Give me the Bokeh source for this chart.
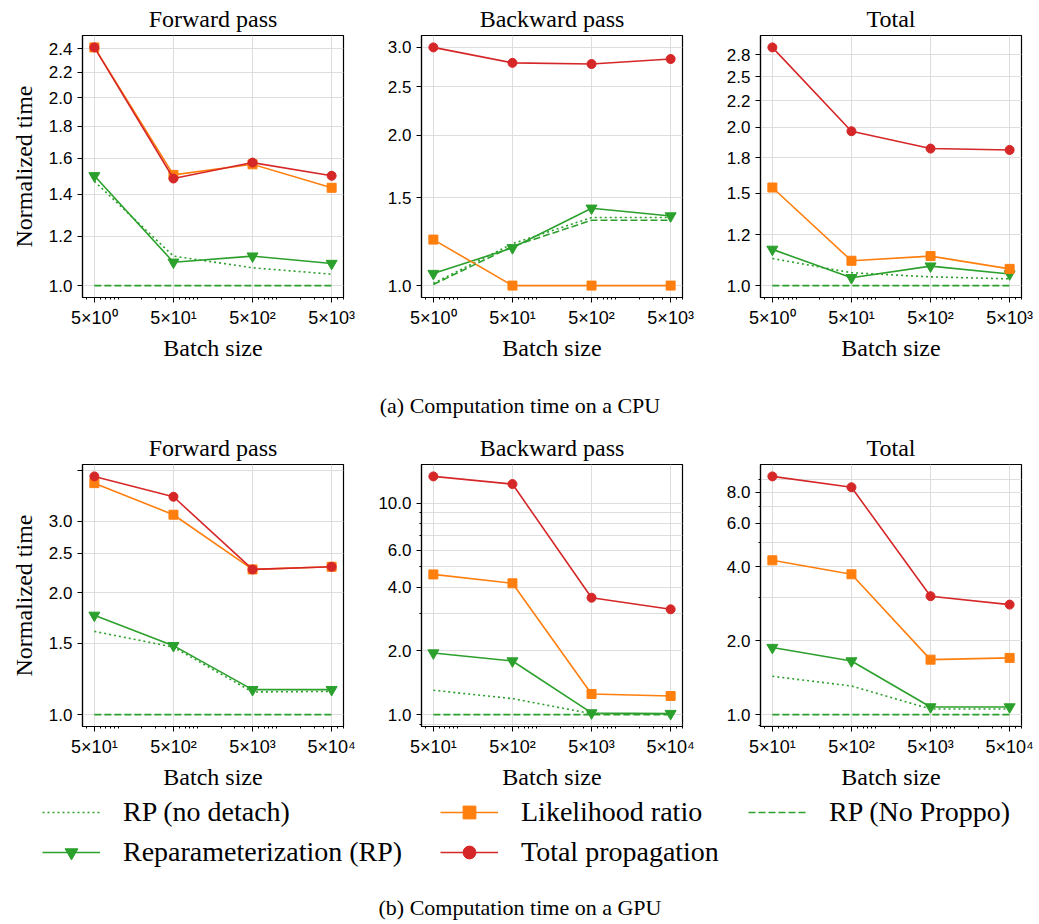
import math
from bokeh.plotting import figure
from bokeh.models import Range1d, FixedTicker, Legend, LegendItem, Label, Title
from bokeh.layouts import column, row
from bokeh.embed import file_html
from bokeh.resources import INLINE

# ---------------- data ----------------
x_cpu = [5, 50, 500, 5000]
x_gpu = [50, 500, 5000, 50000]
x_cpu_ticklabels = ["5×10⁰", "5×10¹", "5×10²", "5×10³"]
x_gpu_ticklabels = ["5×10¹", "5×10²", "5×10³", "5×10⁴"]

panel_titles = ["Forward pass", "Backward pass", "Total"]
series_names = ["RP (no detach)", "Reparameterization (RP)", "Likelihood ratio",
                "Total propagation", "RP (No Proppo)"]
caption_cpu = "(a) Computation time on a CPU"
caption_gpu = "(b) Computation time on a GPU"
y_label = "Normalized time"
x_label = "Batch size"

# CPU
cpu_fwd_rp_nodetach = [1.47, 1.115, 1.068, 1.043]
cpu_fwd_rp = [1.50, 1.09, 1.115, 1.085]
cpu_fwd_lr = [2.41, 1.505, 1.565, 1.435]
cpu_fwd_tp = [2.41, 1.485, 1.575, 1.50]
cpu_fwd_rp_noproppo = [1.0, 1.0, 1.0, 1.0]

cpu_bwd_rp_nodetach = [1.01, 1.213, 1.368, 1.368]
cpu_bwd_rp = [1.057, 1.19, 1.428, 1.378]
cpu_bwd_lr = [1.236, 1.0, 1.0, 1.0]
cpu_bwd_tp = [2.996, 2.79, 2.775, 2.84]
cpu_bwd_rp_noproppo = [1.005, 1.198, 1.351, 1.351]

cpu_tot_rp_nodetach = [1.126, 1.058, 1.039, 1.030]
cpu_tot_rp = [1.172, 1.035, 1.089, 1.052]
cpu_tot_lr = [1.537, 1.115, 1.138, 1.076]
cpu_tot_tp = [2.84, 1.967, 1.823, 1.812]
cpu_tot_rp_noproppo = [1.0, 1.0, 1.0, 1.0]

# GPU
gpu_fwd_rp_nodetach = [1.604, 1.467, 1.137, 1.141]
gpu_fwd_rp = [1.757, 1.479, 1.152, 1.152]
gpu_fwd_lr = [3.722, 3.111, 2.28, 2.315]
gpu_fwd_tp = [3.867, 3.445, 2.28, 2.315]
gpu_fwd_rp_noproppo = [1.0, 1.0, 1.0, 1.0]

gpu_bwd_rp_nodetach = [1.303, 1.19, 1.01, 1.01]
gpu_bwd_rp = [1.955, 1.792, 1.018, 1.011]
gpu_bwd_lr = [4.60, 4.175, 1.252, 1.224]
gpu_bwd_tp = [13.37, 12.30, 3.57, 3.146]
gpu_bwd_rp_noproppo = [1.0, 1.0, 1.0, 1.0]

gpu_tot_rp_nodetach = [1.431, 1.307, 1.054, 1.054]
gpu_tot_rp = [1.873, 1.652, 1.074, 1.074]
gpu_tot_lr = [4.24, 3.72, 1.673, 1.70]
gpu_tot_tp = [9.30, 8.40, 3.03, 2.80]
gpu_tot_rp_noproppo = [1.0, 1.0, 1.0, 1.0]

# y ticks
cpu_fwd_yticks = [1.0, 1.2, 1.4, 1.6, 1.8, 2.0, 2.2, 2.4]
cpu_fwd_ylabels = ["1.0", "1.2", "1.4", "1.6", "1.8", "2.0", "2.2", "2.4"]
cpu_bwd_yticks = [1.0, 1.5, 2.0, 2.5, 3.0]
cpu_bwd_ylabels = ["1.0", "1.5", "2.0", "2.5", "3.0"]
cpu_tot_yticks = [1.0, 1.25, 1.5, 1.75, 2.0, 2.25, 2.5, 2.75]
cpu_tot_ylabels = ["1.0", "1.2", "1.5", "1.8", "2.0", "2.2", "2.5", "2.8"]
gpu_fwd_yticks = [1.0, 1.5, 2.0, 2.5, 3.0, 4.0]
gpu_fwd_ylabels = ["1.0", "1.5", "2.0", "2.5", "3.0", ""]
gpu_bwd_yticks = [1.0, 2.0, 4.0, 6.0, 10.0]
gpu_bwd_ylabels = ["1.0", "2.0", "4.0", "6.0", "10.0"]
gpu_bwd_yminor = [0.9, 3.0, 5.0, 7.0, 8.0, 9.0]
gpu_tot_yticks = [1.0, 2.0, 4.0, 6.0, 8.0]
gpu_tot_ylabels = ["1.0", "2.0", "4.0", "6.0", "8.0"]
gpu_tot_yminor = [0.9, 3.0, 5.0, 7.0, 9.0]

# ---------------- style ----------------
GREEN, ORANGE, RED = "#2ca02c", "#ff7f0e", "#d62728"
SERIF = "Liberation Serif"
SANS = "Liberation Sans"
GRID = "#dedede"
styles = [
    dict(color=GREEN, dash="2 3", marker=None, size=0),
    dict(color=GREEN, dash="solid", marker="inverted_triangle", size=11),
    dict(color=ORANGE, dash="solid", marker="square", size=9),
    dict(color=RED, dash="solid", marker="circle", size=9),
    dict(color=GREEN, dash="7 3", marker=None, size=0),
]


def log_pad_range(vals):
    lo, hi = math.log10(min(vals)), math.log10(max(vals))
    pad = 0.05 * (hi - lo)
    return Range1d(10 ** (lo - pad), 10 ** (hi + pad))


def x_minor_ticks(xs):
    k0 = math.floor(math.log10(min(xs))) - 1
    k1 = math.ceil(math.log10(max(xs))) + 1
    out = []
    for k in range(k0, k1 + 1):
        for m in range(1, 10):
            v = m * 10 ** k
            if v not in xs:
                out.append(v)
    return out


def serif_title(text, standoff):
    return Title(text=text, align="center", text_font=SERIF, text_font_size="24px",
                 text_font_style="normal", text_color="black", standoff=standoff)


def make_panel(title, xs, xlabels, series, yticks, ylabels, yminor,
               left, right, top, bottom, show_ylabel):
    all_y = [v for s in series for v in s]
    p = figure(frame_width=261, frame_height=262,
               x_axis_type="log", y_axis_type="log",
               x_range=log_pad_range(xs), y_range=log_pad_range(all_y),
               output_backend="svg", toolbar_location=None, title=title,
               min_border_left=left, min_border_right=right,
               min_border_top=top, min_border_bottom=bottom)
    p.title.text_font = SERIF
    p.title.text_font_size = "24px"
    p.title.text_font_style = "normal"
    p.title.align = "center"
    p.title.standoff = 7
    p.title.text_color = "black"

    p.outline_line_color = "black"
    p.outline_line_width = 1.2
    p.background_fill_color = "white"
    p.border_fill_color = "white"

    p.xaxis.ticker = FixedTicker(ticks=list(xs), minor_ticks=x_minor_ticks(xs))
    p.xaxis.major_label_overrides = {float(x): lab for x, lab in zip(xs, xlabels)}
    p.yaxis.ticker = FixedTicker(ticks=list(yticks), minor_ticks=list(yminor))
    p.yaxis.major_label_overrides = {float(t): lab for t, lab in zip(yticks, ylabels)}

    for ax in (p.xaxis[0], p.yaxis[0]):
        ax.axis_line_color = "black"
        ax.axis_line_width = 1.2
        ax.major_tick_line_color = "black"
        ax.minor_tick_line_color = "black"
        ax.major_tick_in = 0
        ax.major_tick_out = 5
        ax.minor_tick_in = 0
        ax.minor_tick_out = 2
        ax.major_label_text_font = SANS
        ax.major_label_text_color = "black"
    p.xaxis.major_label_text_font_size = "18px"
    p.yaxis.major_label_text_font_size = "17px"
    p.xaxis.major_label_standoff = 5
    p.yaxis.major_label_standoff = 5

    # axis titles drawn as Title annotations (serif)
    p.add_layout(serif_title(x_label, 4), "below")
    if show_ylabel:
        p.add_layout(serif_title(y_label, 17), "left")

    p.xgrid.grid_line_color = GRID
    p.ygrid.grid_line_color = GRID
    p.ygrid.minor_grid_line_color = GRID
    p.xgrid.grid_line_width = 1
    p.ygrid.grid_line_width = 1

    for ys, st in zip(series, styles):
        p.line(xs, ys, line_color=st["color"], line_width=1.6, line_dash=st["dash"])
        if st["marker"]:
            p.scatter(xs, ys, marker=st["marker"], size=st["size"],
                      fill_color=st["color"], line_color=st["color"])
    return p


cpu_series = [
    [cpu_fwd_rp_nodetach, cpu_fwd_rp, cpu_fwd_lr, cpu_fwd_tp, cpu_fwd_rp_noproppo],
    [cpu_bwd_rp_nodetach, cpu_bwd_rp, cpu_bwd_lr, cpu_bwd_tp, cpu_bwd_rp_noproppo],
    [cpu_tot_rp_nodetach, cpu_tot_rp, cpu_tot_lr, cpu_tot_tp, cpu_tot_rp_noproppo],
]
gpu_series = [
    [gpu_fwd_rp_nodetach, gpu_fwd_rp, gpu_fwd_lr, gpu_fwd_tp, gpu_fwd_rp_noproppo],
    [gpu_bwd_rp_nodetach, gpu_bwd_rp, gpu_bwd_lr, gpu_bwd_tp, gpu_bwd_rp_noproppo],
    [gpu_tot_rp_nodetach, gpu_tot_rp, gpu_tot_lr, gpu_tot_tp, gpu_tot_rp_noproppo],
]
cpu_yt = [(cpu_fwd_yticks, cpu_fwd_ylabels, []),
          (cpu_bwd_yticks, cpu_bwd_ylabels, []),
          (cpu_tot_yticks, cpu_tot_ylabels, [])]
gpu_yt = [(gpu_fwd_yticks, gpu_fwd_ylabels, []),
          (gpu_bwd_yticks, gpu_bwd_ylabels, gpu_bwd_yminor),
          (gpu_tot_yticks, gpu_tot_ylabels, gpu_tot_yminor)]

borders_lr = [(81, 14), (64, 14), (64, 19)]

row1 = []
for i in range(3):
    yt, yl, ym = cpu_yt[i]
    row1.append(make_panel(panel_titles[i], x_cpu, x_cpu_ticklabels, cpu_series[i],
                           yt, yl, ym, borders_lr[i][0], borders_lr[i][1], 35, 70, i == 0))
row2 = []
for i in range(3):
    yt, yl, ym = gpu_yt[i]
    row2.append(make_panel(panel_titles[i], x_gpu, x_gpu_ticklabels, gpu_series[i],
                           yt, yl, ym, borders_lr[i][0], borders_lr[i][1], 36, 70, i == 0))


def blank_fig(h):
    f = figure(width=1039, height=h, x_range=Range1d(0, 1), y_range=Range1d(0, 1),
               output_backend="svg", toolbar_location=None, min_border=0,
               x_axis_location=None, y_axis_location=None)
    f.grid.visible = False
    f.outline_line_color = None
    return f


capA = blank_fig(61)
capA.add_layout(Label(x=519.5, y=23, x_units="screen", y_units="screen", text=caption_cpu,
                      text_align="center", text_baseline="alphabetic",
                      text_font=SERIF, text_font_size="22px", text_color="black"))

leg = blank_fig(128)
# dummy renderers (kept outside the visible 0..1 range) that only feed the legend samples
rends = []
for st in styles:
    rs = [leg.line([5, 6], [5, 6], line_color=st["color"], line_width=1.6, line_dash=st["dash"])]
    if st["marker"]:
        rs.append(leg.scatter([5], [5], marker=st["marker"], size=st["size"],
                              fill_color=st["color"], line_color=st["color"]))
    rends.append(rs)


def add_legend(idx, x, y):
    L = Legend(items=[LegendItem(label=series_names[i], renderers=rends[i]) for i in idx],
               location=(x, y), orientation="vertical", spacing=8, padding=0, margin=0,
               glyph_width=58, glyph_height=32, label_height=32, label_standoff=23,
               label_text_font=SERIF, label_text_font_size="28px", label_text_color="black",
               background_fill_alpha=0, border_line_color=None)
    leg.add_layout(L, "center")


add_legend([0, 1], 42, 56)
add_legend([2, 3], 440, 56)
add_legend([4], 748, 96)
leg.add_layout(Label(x=519.5, y=17, x_units="screen", y_units="screen", text=caption_gpu,
                     text_align="center", text_baseline="alphabetic",
                     text_font=SERIF, text_font_size="22px", text_color="black"))

layout = column(row(*row1), capA, row(*row2), leg)
open("out.html", "w").write(file_html(layout, INLINE))
